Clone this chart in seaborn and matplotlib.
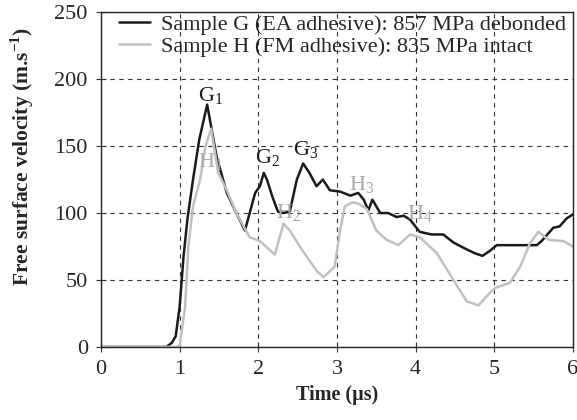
import numpy as np
import pandas as pd
import matplotlib
matplotlib.use("Agg")
import matplotlib.pyplot as plt
import seaborn as sns

sns.set_style("ticks")
plt.rcParams['font.family'] = ['Liberation Serif', 'DejaVu Serif']
plt.rcParams['mathtext.fontset'] = 'custom'
plt.rcParams['mathtext.rm'] = 'Liberation Serif'
plt.rcParams['mathtext.bf'] = 'Liberation Serif:bold'

# Sample G (EA adhesive) - black trace
t_g = [0, 0.83, 0.9, 0.95, 1.0, 1.05, 1.1, 1.17, 1.25, 1.35, 1.47, 1.6, 1.72,
       1.83, 1.96, 2.02, 2.07, 2.11, 2.18, 2.25, 2.32, 2.4, 2.49, 2.57, 2.65,
       2.74, 2.82, 2.91, 3.04, 3.17, 3.27, 3.34, 3.4, 3.45, 3.55, 3.65, 3.76,
       3.85, 3.93, 4.05, 4.2, 4.35, 4.48, 4.61, 4.75, 4.85, 4.95, 5.03, 5.3,
       5.54, 5.6, 5.75, 5.83, 5.92, 6.0]
v_g = [0, 0, 3, 8, 30, 68, 96, 125, 155, 181, 142, 115, 100,
       87, 115, 120, 130, 125, 112, 101, 100, 101, 125, 137, 130,
       120, 125, 117, 116, 113, 115, 110, 102, 110, 100, 100, 97,
       98, 95, 86, 84, 84, 78, 74, 70, 68, 72, 76, 76,
       76, 79, 89, 90, 96, 99]

# Sample H (FM adhesive) - grey trace
t_h = [0, 0.95, 1.0, 1.07, 1.11, 1.17, 1.26, 1.33, 1.4, 1.49, 1.6, 1.72, 1.89,
       2.02, 2.21, 2.32, 2.4, 2.55, 2.74, 2.83, 2.97, 3.04, 3.1, 3.2, 3.27,
       3.38, 3.5, 3.63, 3.78, 3.93, 4.05, 4.27, 4.48, 4.65, 4.8, 4.92, 5.01,
       5.2, 5.33, 5.45, 5.56, 5.69, 5.88, 6.0]
v_h = [0, 0, 1, 30, 75, 105, 125, 150, 163, 130, 117, 100, 82,
       79, 69, 92, 87, 73, 57, 52, 60, 87, 105, 108, 107,
       103, 87, 80, 76, 84, 82, 70, 50, 34, 31, 39, 44,
       48, 60, 77, 86, 80, 79, 75]

# peak labels: (letter, index, t, v)
g_labels = [("G", "1", 1.39, 187), ("G", "2", 2.12, 141), ("G", "3", 2.6, 147)]
h_labels = [("H", "1", 1.39, 138), ("H", "2", 2.38, 100), ("H", "3", 3.32, 121),
            ("H", "4", 4.06, 99)]

LABEL_G = "Sample G (EA adhesive): 857 MPa debonded"
LABEL_H = "Sample H (FM adhesive): 835 MPa intact"

df = pd.concat([
    pd.DataFrame({"t": t_g, "v": v_g, "sample": LABEL_G}),
    pd.DataFrame({"t": t_h, "v": v_h, "sample": LABEL_H}),
])

fig = plt.figure(figsize=(5.77, 4.2), dpi=100)
ax = fig.add_axes([0.175, 0.174, 0.818, 0.797])

sns.lineplot(data=df, x="t", y="v", hue="sample", estimator=None,
             palette={LABEL_G: "#1a1a1a", LABEL_H: "#c0c0c0"},
             linewidth=1.8, ax=ax)

for let, idx, x, y in g_labels:
    ax.text(x, y, let + r"$_{\mathrm{" + idx + "}}$", color="#1a1a1a",
            fontsize=16, ha="center", va="center")
for let, idx, x, y in h_labels:
    ax.text(x, y, let + r"$_{\mathrm{" + idx + "}}$", color="#a8a8a8",
            fontsize=16, ha="center", va="center")

ax.set_xlim(0, 6)
ax.set_ylim(0, 250)
ax.set_xticks(range(0, 7))
ax.set_yticks(range(0, 251, 50))
ax.grid(True, linestyle=(0, (4, 4)), color="#333333", linewidth=0.8)
ax.tick_params(labelsize=16, direction="inout", length=7, color="#333333",
               pad=6)
for s in ax.spines.values():
    s.set_color("#222222")
    s.set_linewidth(1.0)

ax.set_xlabel("Time (\u00b5s)", fontsize=14.5, fontweight="bold", labelpad=4)
ax.set_ylabel(r"Free surface velocity (m.s$^{\mathbf{-1}}$)", fontsize=15.5,
              fontweight="bold")
ax.yaxis.set_label_coords(-0.137, 0.57)

ax.legend(loc="upper left", bbox_to_anchor=(0.005, 1.04), frameon=False,
          fontsize=16, handlelength=1.4, handletextpad=0.5, labelspacing=0.05,
          borderaxespad=0.3)

plt.savefig("out.png", dpi=100)
